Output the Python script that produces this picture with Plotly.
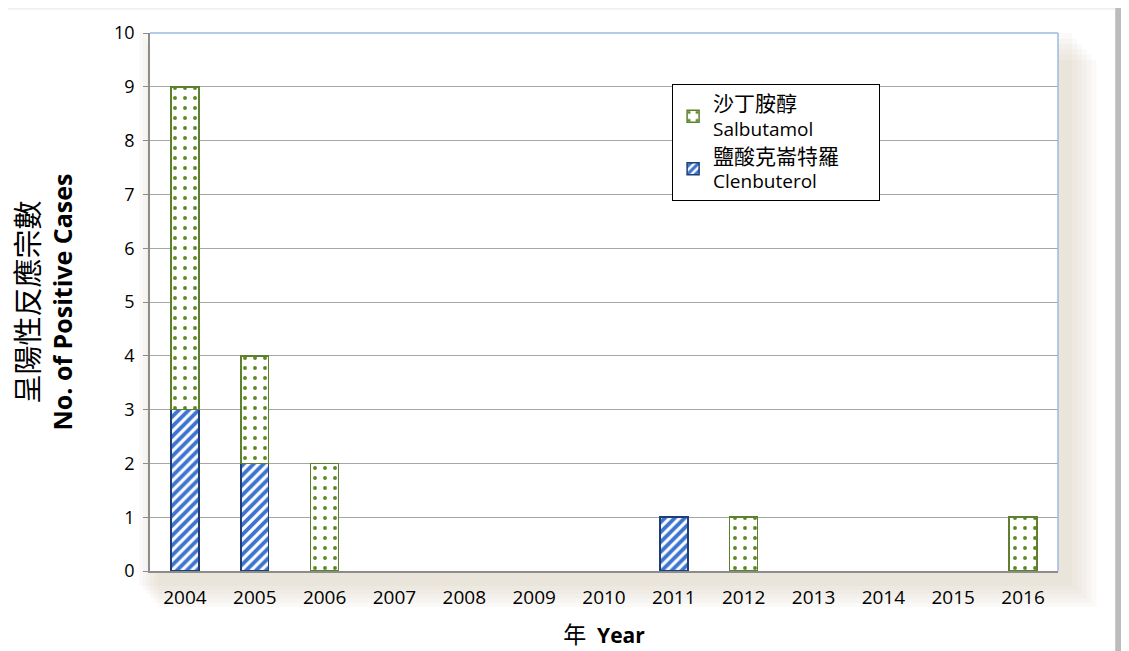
import plotly.graph_objects as go

years = ["2004", "2005", "2006", "2007", "2008", "2009", "2010", "2011", "2012", "2013", "2014", "2015", "2016"]
clenbuterol = [3, 2, None, None, None, None, None, 1, None, None, None, None, None]
salbutamol = [6, 2, 2, None, None, None, None, None, 1, None, None, None, 1]
name_clen = "<span style='font-size:21px'>鹽酸克崙特羅</span>&nbsp;&nbsp;&nbsp;&nbsp;&nbsp;&nbsp;&nbsp;<br>Clenbuterol"
name_salb = "<span style='font-size:21px'>沙丁胺醇</span><br>Salbutamol"

FONT = "Open Sans, Noto Sans CJK TC, sans-serif"

fig = go.Figure()
fig.add_trace(go.Bar(
    x=years, y=clenbuterol, name=name_clen,
    marker=dict(color="white", line=dict(color="#1F3E78", width=1.5),
                pattern=dict(shape="/", fgcolor="#3C74CF", bgcolor="white", fgopacity=1,
                             size=7, solidity=0.55, fillmode="overlay")),
))
fig.add_trace(go.Bar(
    x=years, y=salbutamol, name=name_salb,
    marker=dict(color="white", line=dict(color="#5E7F2E", width=1.5),
                pattern=dict(shape=".", fgcolor="#5A8A22", bgcolor="white", fgopacity=1,
                             size=10, solidity=0.12, fillmode="overlay")),
))

shapes = []
# outer page shadow (top and right)
shapes.append(dict(type="rect", xref="paper", yref="paper", x0=1.063, x1=1.12, y0=-0.25, y1=1.1,
                   fillcolor="#8F8F8F", line_width=0, layer="below", opacity=0.6))
shapes.append(dict(type="rect", xref="paper", yref="paper", x0=-0.2, x1=1.063, y0=1.043, y1=1.1,
                   fillcolor="#E6E6E6", line_width=0, layer="below", opacity=0.6))
# plot-area glow shadow
for i in range(6):
    d = (i + 1) * 0.006
    shapes.append(dict(type="rect", xref="paper", yref="paper",
                       x0=-0.012 + 0.004 * i, x1=1.0 + d * 0.9 + 0.01, y0=-0.02 - d * 1.3, y1=1.0 - 0.01 * i,
                       fillcolor="#CFCAB0", line_width=0, layer="below", opacity=0.09))
shapes.append(dict(type="rect", xref="paper", yref="paper", x0=0, x1=1, y0=0, y1=1,
                   fillcolor="white", line_width=0, layer="below"))

fig.update_layout(
    width=1129, height=651,
    barmode="stack", bargap=0.6,
    paper_bgcolor="white", plot_bgcolor="rgba(0,0,0,0)",
    margin=dict(l=142, r=79, t=25, b=88),
    font=dict(family=FONT, size=17, color="black"),
    shapes=shapes,
    legend=dict(x=0.575, y=0.905, xanchor="left", yanchor="top",
                bordercolor="black", borderwidth=1, bgcolor="white",
                traceorder="reversed", font=dict(size=19), tracegroupgap=5,
                itemwidth=30),
    xaxis=dict(showline=True, linecolor="#8C8C8C", linewidth=1.5, mirror=False,
               ticks="", tickfont=dict(size=19), showgrid=False, automargin=False,
               ticklabelstandoff=8,
               title=dict(text="<span style='font-size:23px'>年</span>  <b>Year</b>", font=dict(size=21), standoff=20)),
    yaxis=dict(range=[0, 10], dtick=1, showline=True, linecolor="#8C8C8C", linewidth=1.5,
               ticks="outside", ticklen=5, tickcolor="#8C8C8C", tickfont=dict(size=18),
               showgrid=True, gridcolor="#A6A6A6", gridwidth=1.3, zeroline=False, automargin=False,
               ticklabelstandoff=5,
               title=dict(text="<span style='font-size:29px'>呈陽性反應宗數</span><br><b>No. of Positive Cases</b>",
                          font=dict(size=25), standoff=40)),
)
# top/right light blue plot border
fig.add_shape(type="line", xref="paper", yref="paper", x0=0, x1=1, y0=1, y1=1,
              line=dict(color="#9DB7E0", width=1.5))
fig.add_shape(type="line", xref="paper", yref="paper", x0=1, x1=1, y0=0, y1=1,
              line=dict(color="#9DB7E0", width=1.5))

fig.write_html("out.html")
